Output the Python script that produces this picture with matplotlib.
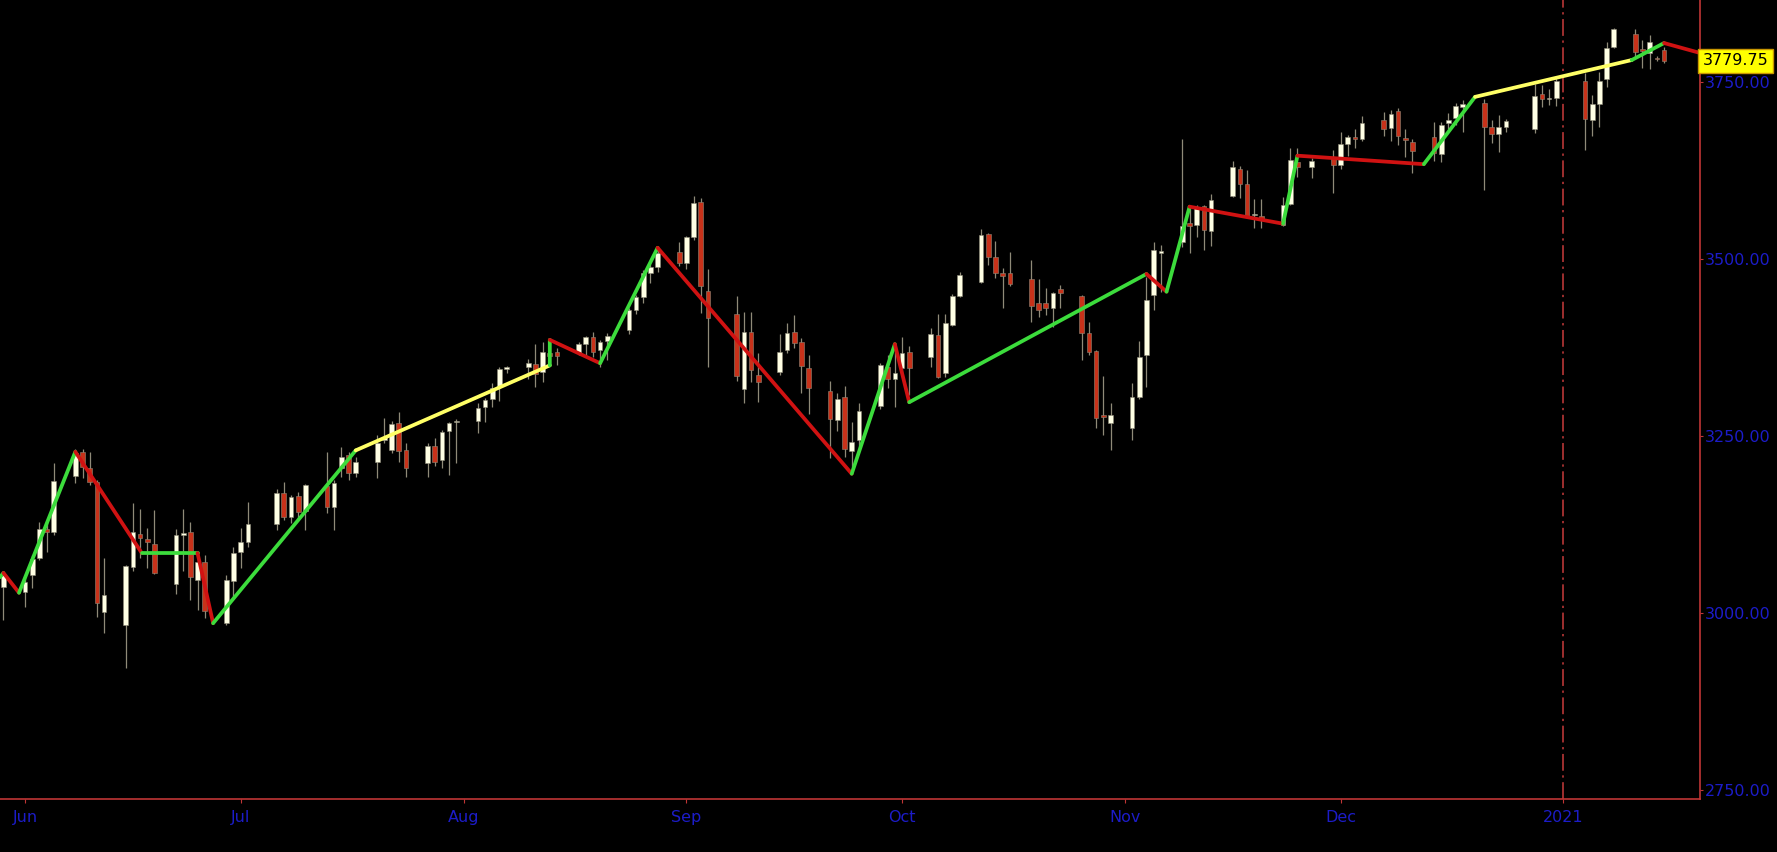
import matplotlib
matplotlib.use("Agg")
import matplotlib.pyplot as plt
import matplotlib.dates as mdates
import matplotlib.transforms as mtransforms
import pandas as pd

# daily bars, 2020-05-29 .. 2021-01-15 (exchange holidays removed)
holidays = ["2020-07-03", "2020-09-07", "2020-11-26", "2020-12-25", "2021-01-01"]
days = pd.bdate_range("2020-05-29", "2021-01-15")
days = days[~days.isin(pd.to_datetime(holidays))]

opens = [3037,
         3030, 3054, 3078, 3119, 3115, 3194, 3228, 3205, 3185, 3002, 2984, 3066, 3112, 3105, 3098,
         3041, 3111, 3115, 3047, 3072, 2986, 3046,
         3087, 3101, 3126, 3170, 3136, 3166, 3144, 3180, 3150, 3205, 3224, 3198, 3214, 3245, 3230,
         3269, 3230, 3212, 3236, 3216, 3257, 3270,
         3271, 3291, 3302, 3319, 3345, 3348, 3352, 3341, 3368, 3369, 3367, 3380, 3390, 3372, 3384,
         3400, 3428, 3446, 3480, 3489, 3510,
         3494, 3531, 3581, 3455, 3422, 3317, 3397, 3336, 3340, 3371, 3397, 3383, 3346, 3314, 3273,
         3305, 3229, 3245, 3293, 3348, 3331,
         3346, 3369, 3362, 3393, 3339, 3407, 3448, 3468, 3535, 3503, 3481, 3481, 3472, 3438, 3438,
         3431, 3458, 3448, 3396, 3370, 3280, 3269,
         3262, 3305, 3365, 3449, 3509, 3524, 3551, 3548, 3575, 3540, 3589, 3627, 3606, 3562, 3561,
         3548, 3578, 3637, 3630, 3644,
         3633, 3662, 3672, 3670, 3696, 3685, 3709, 3671, 3665, 3672, 3648, 3692, 3699, 3715, 3720,
         3687, 3677, 3687, 3684, 3733, 3726, 3727,
         3751, 3696, 3719, 3754, 3799, 3818, 3797, 3791, 3783, 3795]
highs = [3058,
         3051, 3082, 3129, 3129, 3212, 3232, 3232, 3228, 3188, 3078, 3068, 3156, 3147, 3120, 3146,
         3119, 3147, 3129, 3087, 3082, 3054, 3094,
         3120, 3157, 3175, 3185, 3167, 3171, 3182, 3228, 3188, 3235, 3228, 3221, 3252, 3276, 3271,
         3284, 3240, 3240, 3248, 3259, 3270, 3274,
         3297, 3304, 3325, 3348, 3349, 3359, 3380, 3383, 3386, 3374, 3383, 3391, 3397, 3386, 3396,
         3431, 3449, 3485, 3493, 3514, 3524,
         3533, 3589, 3586, 3486, 3448, 3425, 3425, 3367, 3394, 3410, 3421, 3389, 3365, 3328, 3311,
         3321, 3270, 3297, 3353, 3365, 3374,
         3390, 3377, 3403, 3422, 3422, 3451, 3482, 3542, 3537, 3525, 3488, 3510, 3499, 3472, 3459,
         3454, 3463, 3449, 3411, 3372, 3335, 3297,
         3325, 3384, 3475, 3524, 3520, 3670, 3572, 3576, 3576, 3592, 3638, 3631, 3626, 3585, 3585,
         3588, 3657, 3657, 3643, 3654,
         3679, 3675, 3684, 3702, 3708, 3710, 3713, 3684, 3670, 3693, 3693, 3706, 3720, 3725, 3726,
         3696, 3703, 3698, 3747, 3746, 3740, 3756,
         3763, 3732, 3764, 3807, 3826, 3825, 3809, 3816, 3786, 3799]
lows = [2990,
        3009, 3036, 3075, 3087, 3110, 3184, 3191, 3181, 2995, 2972, 2923, 3060, 3078, 3064, 3055,
        3027, 3060, 3019, 3005, 2993, 2984, 3023,
        3064, 3094, 3118, 3132, 3127, 3132, 3118, 3142, 3118, 3192, 3188, 3192, 3191, 3240, 3226,
        3214, 3192, 3192, 3208, 3205, 3195, 3212,
        3255, 3270, 3291, 3300, 3339, 3331, 3320, 3326, 3350, 3350, 3364, 3364, 3362, 3348, 3358,
        3394, 3422, 3438, 3466, 3482, 3490,
        3486, 3527, 3424, 3348, 3328, 3297, 3326, 3298, 3336, 3367, 3374, 3311, 3281, 3219, 3257,
        3221, 3198, 3230, 3288, 3318, 3291,
        3334, 3308, 3348, 3332, 3334, 3406, 3446, 3466, 3492, 3473, 3431, 3462, 3411, 3418, 3421,
        3404, 3431, 3357, 3365, 3262, 3252, 3230,
        3245, 3303, 3320, 3428, 3453, 3517, 3509, 3531, 3513, 3519, 3588, 3586, 3558, 3544, 3544,
        3547, 3576, 3616, 3614, 3593,
        3627, 3646, 3657, 3667, 3674, 3667, 3661, 3644, 3622, 3638, 3637, 3684, 3689, 3679, 3597,
        3664, 3651, 3680, 3678, 3715, 3717, 3716,
        3654, 3674, 3686, 3743, 3798, 3785, 3770, 3768, 3779, 3777]
closes = [3054,
          3044, 3077, 3119, 3115, 3187, 3226, 3207, 3185, 3015, 3026, 3067, 3115, 3106, 3101, 3057,
          3110, 3113, 3051, 3072, 3003, 3047, 3085,
          3101, 3126, 3170, 3136, 3164, 3143, 3181, 3150, 3184, 3221, 3198, 3214, 3240, 3249, 3267,
          3229, 3205, 3236, 3214, 3256, 3269, 3271,
          3290, 3301, 3318, 3345, 3348, 3353, 3338, 3369, 3363, 3363, 3380, 3390, 3369, 3383, 3391,
          3428, 3446, 3480, 3489, 3509, 3494,
          3531, 3579, 3462, 3417, 3335, 3397, 3343, 3326, 3369, 3396, 3382, 3349, 3318, 3274, 3302,
          3232, 3242, 3286, 3350, 3331, 3339,
          3367, 3346, 3394, 3334, 3410, 3448, 3478, 3534, 3503, 3480, 3476, 3465, 3434, 3428, 3431,
          3452, 3452, 3396, 3369, 3276, 3277, 3280,
          3305, 3362, 3442, 3513, 3512, 3547, 3547, 3574, 3541, 3583, 3630, 3606, 3561, 3564, 3555,
          3576, 3640, 3630, 3638, 3633,
          3662, 3672, 3670, 3692, 3684, 3705, 3674, 3668, 3653, 3650, 3689, 3696, 3716, 3719, 3687,
          3677, 3687, 3695, 3730, 3726, 3728, 3751,
          3698, 3719, 3751, 3798, 3825, 3792, 3794, 3806, 3782, 3779.75]

# zigzag pivots and the colour of the leg that ends at each pivot
zz_dates = ["2020-05-28 12:30", "2020-05-29 00:00", "2020-05-31 04:00", "2020-06-08 00:00",
            "2020-06-17 06:00", "2020-06-25 00:00", "2020-06-27 04:00", "2020-07-17 00:00",
            "2020-08-13 00:00", "2020-08-13 00:01", "2020-08-20 00:00", "2020-08-28 00:00",
            "2020-09-24 00:00", "2020-09-30 00:00", "2020-10-02 00:00", "2020-11-04 00:00",
            "2020-11-06 19:00", "2020-11-10 00:00", "2020-11-23 00:00", "2020-11-25 00:00",
            "2020-12-12 14:00", "2020-12-19 17:00", "2021-01-10 12:00", "2021-01-15 00:00",
            "2021-01-20 00:00"]
zz_prices = [3051, 3057, 3029, 3228, 3085, 3085, 2986, 3230, 3350, 3386, 3353, 3516, 3197,
             3380, 3298, 3479, 3454, 3574, 3550, 3646, 3634, 3729, 3781, 3805, 3791]
zz_legs = ["up", "down", "up", "down", "up", "down", "up", "flat", "up", "down", "up", "down",
           "up", "down", "up", "down", "up", "down", "up", "down", "up", "flat", "up", "down"]

last_price = 3779.75
month_labels = ["Jun", "Jul", "Aug", "Sep", "Oct", "Nov", "Dec", "2021"]

BG = "black"
AXIS = "#C03535"
TXT = "#1C1CC8"
UP = "#FFFFE4"
DOWN = "#C8321A"
WICK = "#8F8A78"
LEG = {"up": "#3CDC3C", "down": "#D01212", "flat": "#FFFF66"}

fig = plt.figure(figsize=(17.77, 8.52), dpi=100, facecolor=BG)
ax = fig.add_axes([0, 1 - 799 / 852, 1700 / 1777, 799 / 852], facecolor=BG)

x = mdates.date2num(days.to_pydatetime())
for xi, o, h, l, c in zip(x, opens, highs, lows, closes):
    ax.vlines(xi, l, h, color=WICK, lw=0.9, zorder=2)
    col = UP if c >= o else DOWN
    ax.bar(xi, max(abs(c - o), 1.2), bottom=min(o, c), width=0.65, color=col,
           edgecolor=WICK, linewidth=0.4, zorder=3)

zx = mdates.date2num(pd.to_datetime(zz_dates, format="%Y-%m-%d %H:%M").to_pydatetime())
for i, leg in enumerate(zz_legs):
    ax.plot(zx[i:i + 2], zz_prices[i:i + 2], color=LEG[leg], lw=2.7,
            solid_capstyle="round", zorder=4)

ax.axvline(mdates.date2num(pd.Timestamp("2021-01-01")), color="#C83C3C", lw=1.1,
           ls=(0, (11, 3, 1.5, 3)), zorder=1)

ax.set_xlim(mdates.date2num(pd.Timestamp("2020-05-28 12:30")),
            mdates.date2num(pd.Timestamp("2021-01-20")))
ax.set_ylim(2737.9, 3865.75)

month_starts = pd.date_range("2020-06-01", "2021-01-01", freq="MS")
ax.set_xticks(mdates.date2num(month_starts.to_pydatetime()))
ax.set_xticklabels(month_labels)
ax.set_yticks([2750, 3000, 3250, 3500, 3750])
ax.set_yticklabels(["2750.00", "3000.00", "3250.00", "3500.00", "3750.00"])
ax.yaxis.tick_right()

for s in ("top", "left"):
    ax.spines[s].set_visible(False)
for s in ("right", "bottom"):
    ax.spines[s].set_color(AXIS)
    ax.spines[s].set_linewidth(1.2)
ax.tick_params(axis="x", colors=AXIS, labelcolor=TXT, labelsize=11.5, length=3, pad=5)
ax.tick_params(axis="y", colors=AXIS, labelcolor=TXT, labelsize=11.5, length=2.5, pad=1)

trans = mtransforms.blended_transform_factory(ax.transAxes, ax.transData)
ax.text(1.0015, last_price, f"{last_price:.2f}", transform=trans, ha="left", va="center",
        fontsize=11.5, color="black", zorder=10, clip_on=False,
        bbox=dict(boxstyle="square,pad=0.3", fc="#FFFF00", ec="#C89600", lw=1))

fig.savefig("out.png", dpi=100, facecolor=BG)
